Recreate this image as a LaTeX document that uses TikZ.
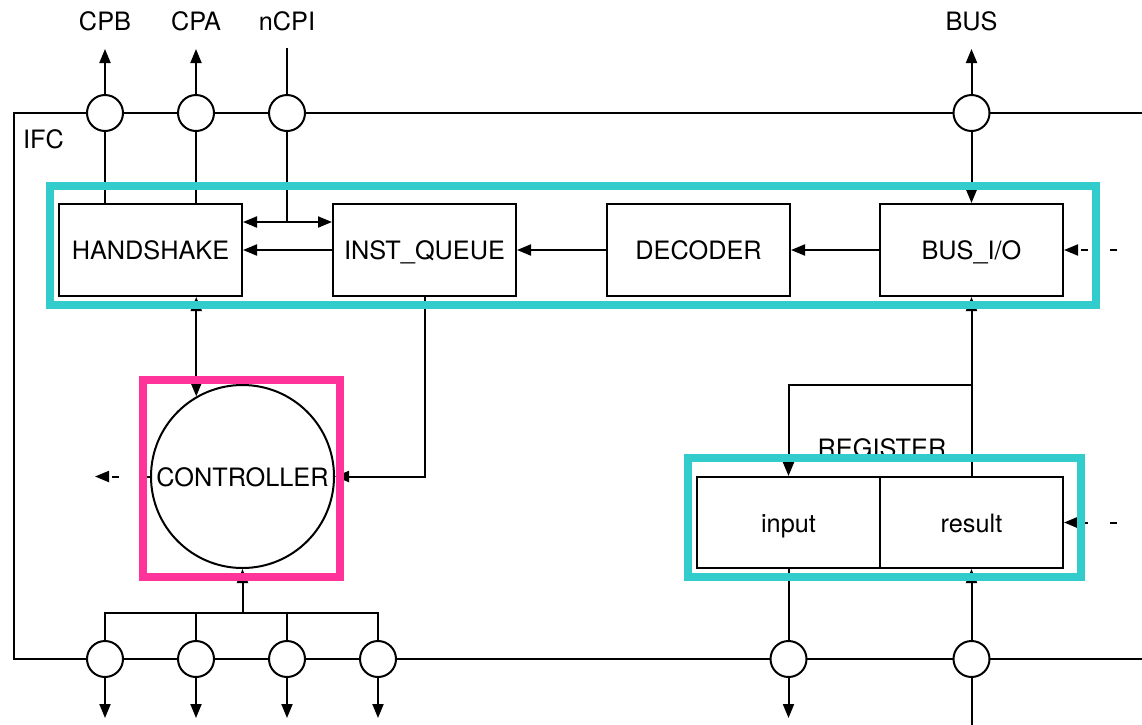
\documentclass[tikz,border=0pt]{standalone}
\usepackage{fontspec}
\setmainfont{TeX Gyre Heros}
\usetikzlibrary{arrows.meta}
\definecolor{cyanbox}{RGB}{51,204,204}
\definecolor{pinkbox}{RGB}{255,51,153}
\tikzset{
  wire/.style={line width=2pt, line cap=rect},
  tip/.tip={Triangle[length=14pt,width=11pt]},
  arr/.style={wire, -tip},
  darr/.style={wire, tip-tip},
  dasharr/.style={line width=2pt, dash pattern=on 7pt off 22pt, -tip},
  port/.style={circle, draw, line width=2pt, fill=white, minimum size=36pt, inner sep=0pt},
  block/.style={rectangle, draw, line width=2pt, fill=white, minimum width=183pt, minimum height=92pt, inner sep=0pt, text height=18pt, text depth=0pt},
  regbox/.style={rectangle, draw, line width=2pt, fill=white, minimum width=183pt, minimum height=91pt, inner sep=0pt, text height=19pt, text depth=0pt},
  lbl/.style={inner sep=0pt, anchor=base},
  group/.style={line width=8pt, draw=cyanbox},
}
\begin{document}
\begin{tikzpicture}[x=1pt,y=-1pt, font=\fontsize{25.3pt}{30pt}\selectfont]
\useasboundingbox (0,0) rectangle (1142,724);
% frame
\draw[wire, line cap=butt] (1142,113) -- (14,113) -- (14,659) -- (1142,659);
\node[lbl, anchor=base west] (ifc) at (23,148) {IFC};
% top ports
\node[port] (pCPB) at (105,113) {};
\node[port] (pCPA) at (196,113) {};
\node[port] (pnCPI) at (287,113) {};
\node[port] (pBUS) at (971.5,113) {};
\node[lbl] (lCPB) at (105,30) {CPB};
\node[lbl] (lCPA) at (196,30) {CPA};
\node[lbl] (lnCPI) at (287,30) {nCPI};
\node[lbl] (lBUS) at (971.5,30) {BUS};
\coordinate (tCPB) at (105,49);
\coordinate (tCPA) at (196,49);
\coordinate (tnCPI) at (287,49);
\coordinate (tBUS) at (971.5,49);
% bottom ports
\node[port] (pB1) at (105,659) {};
\node[port] (pB2) at (196,659) {};
\node[port] (pB3) at (287,659) {};
\node[port] (pB4) at (378,659) {};
\node[port] (pB5) at (788.5,659) {};
\node[port] (pB6) at (971.5,659) {};
\coordinate (bB1) at (105,718);
\coordinate (bB2) at (196,718);
\coordinate (bB3) at (287,718);
\coordinate (bB4) at (378,718);
\coordinate (bB5) at (788.5,718);
\coordinate (bB6) at (971.5,726);
% blocks
\node[block] (HS) at (150.5,250) {HANDSHAKE};
\node[block] (IQ) at (424.5,250) {INST\_QUEUE};
\node[block] (DEC) at (698.5,250) {DECODER};
\node[block] (BIO) at (971.5,250) {BUS\_I/O};
\node[circle, draw, line width=2pt, fill=white, minimum size=183pt, inner sep=0pt, text height=19pt, text depth=0pt] (CTRL) at (242.5,476.5) {CONTROLLER};
\node[lbl] (lREG) at (882,457) {REGISTER};
\node[regbox] (INP) at (788.5,522.5) {input};
\node[regbox] (RES) at (971.5,522.5) {result};
% top connections
\draw[arr] (pCPB.north) -- (tCPB);
\draw[arr] (pCPA.north) -- (tCPA);
\draw[wire] (tnCPI) -- (pnCPI.north);
\draw[arr] (pBUS.north) -- (tBUS);
\draw[wire] (pCPB.south) -- (pCPB.south |- HS.north);
\draw[wire] (pCPA.south) -- (pCPA.south |- HS.north);
\coordinate (jn) at (287,222);
\draw[wire] (pnCPI.south) -- (jn);
\draw[darr] (HS.east |- jn) -- (IQ.west |- jn);
\draw[arr] (IQ.west) -- (HS.east);
\draw[arr] (DEC.west) -- (IQ.east);
\draw[arr] (BIO.west) -- (DEC.east);
\draw[arr] (pBUS.south) -- (BIO.north);
\coordinate (dB) at (1117,250);
\draw[dasharr] (dB) -- (BIO.east);
% controller connections
\draw[darr] (CTRL.120 |- HS.south) -- (CTRL.120);
\draw[arr] (IQ.south) |- (CTRL.east);
\coordinate (dL) at (95,476.5);
\draw[dasharr, dash pattern=on 7pt off 24pt] (CTRL.west) -- (dL);
\coordinate (tree) at (242.5,613);
\draw[wire] (pB1.north) |- (tree) -| (pB4.north);
\draw[wire] (pB2.north) -- (pB2.north |- tree);
\draw[wire] (pB3.north) -- (pB3.north |- tree);
\draw[arr] (tree) -- (CTRL.south);
% register connections
\coordinate (jr) at (971.5,385);
\draw[arr] (RES.north) -- (BIO.south);
\draw[arr] (jr) -| (INP.north);
\coordinate (dR) at (1117,522.5);
\draw[dasharr] (dR) -- (RES.east);
\draw[wire] (INP.south) -- (pB5.north);
\draw[arr] (pB6.north) -- (RES.south);
% bottom arrows
\draw[arr] (pB1.south) -- (bB1);
\draw[arr] (pB2.south) -- (bB2);
\draw[arr] (pB3.south) -- (bB3);
\draw[arr] (pB4.south) -- (bB4);
\draw[arr] (pB5.south) -- (bB5);
\draw[wire] (pB6.south) -- (bB6);
% group frames
\draw[group] (50,185.5) rectangle (1096,305);
\draw[group] (688,457.5) rectangle (1081,577);
\draw[line width=8pt, draw=pinkbox] (143,380) rectangle (340,577);
\end{tikzpicture}
\end{document}
